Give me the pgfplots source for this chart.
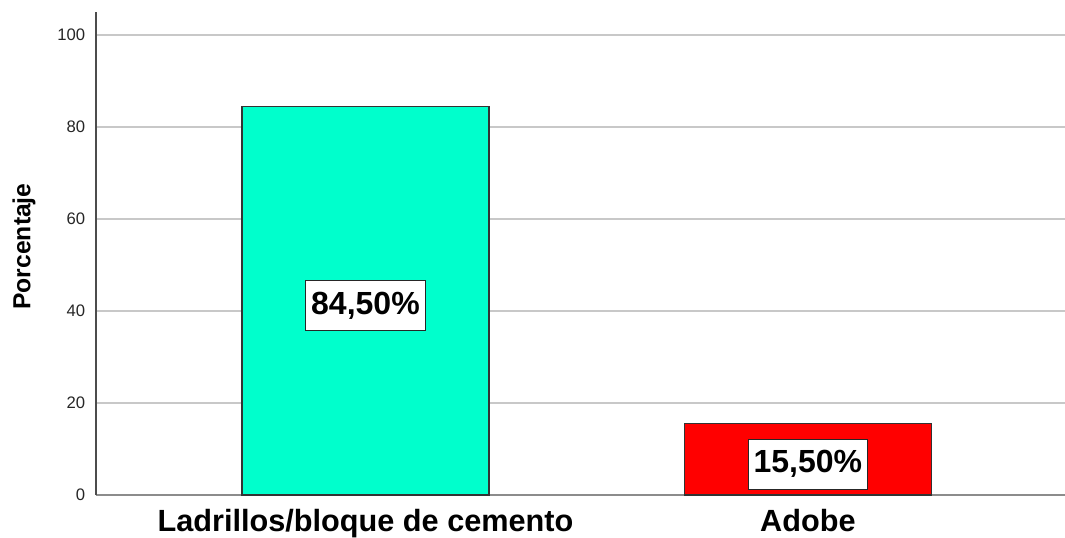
\documentclass[border=0pt]{standalone}
\usepackage{fontspec}
\setmainfont{Liberation Sans}
\usepackage{pgfplots}
\pgfplotsset{compat=1.18}
\definecolor{barA}{RGB}{0,255,204}
\definecolor{barB}{RGB}{255,0,0}
\definecolor{gridc}{RGB}{200,200,200}
\begin{document}
\begin{tikzpicture}
\useasboundingbox (-72pt,-31.5pt) rectangle (726.75pt,371.25pt);
\begin{axis}[
  at={(0,0)}, anchor=south west,
  scale only axis, width=726.75pt, height=362.25pt,
  xmin=-0.609, xmax=1.581, ymin=0, ymax=105,
  axis x line=bottom, axis y line=left,
  axis line style={-},
  x axis line style={draw=black!45, line width=1.5pt},
  y axis line style={draw=black!70, line width=1.2pt},
  xtick={0,1}, xticklabels={Ladrillos/bloque de cemento, Adobe},
  ytick={0,20,...,100},
  major tick length=0pt,
  ymajorgrids, grid style={gridc, line width=1.3pt},
  xticklabel style={font=\bfseries\fontsize{23}{26}\selectfont, anchor=north, inner sep=0pt, yshift=-10.5pt},
  yticklabel style={font=\fontsize{12.5}{14}\selectfont, anchor=east, inner sep=0pt, xshift=-8pt, text=black!85},
  /pgf/number format/assume math mode=true,
  ylabel={Porcentaje},
  ylabel style={font=\bfseries\fontsize{18.5}{20}\selectfont, at={([xshift=-54pt,yshift=5.25pt]axis description cs:0,0.5)}, anchor=center},
  every axis plot/.append style={ybar, bar width=185.25pt, bar shift=0pt, draw=black!80, line width=1pt},
  nodes near coords={\pgfplotspointmeta},
  point meta=explicit symbolic,
  visualization depends on={rawy \as \rawy},
  every node near coord/.append style={anchor=center, fill=white, draw=black!85, line width=0.75pt,
     font=\bfseries\fontsize{24}{28}\selectfont, text=black, inner xsep=4pt, minimum height=37.5pt,
     yshift={-1.725pt*\rawy-3.5pt}},
]
\addplot[fill=barA] coordinates {(0,84.5) [84,50\%]};
\addplot[fill=barB] coordinates {(1,15.5) [15,50\%]};
\end{axis}
\end{tikzpicture}
\end{document}
